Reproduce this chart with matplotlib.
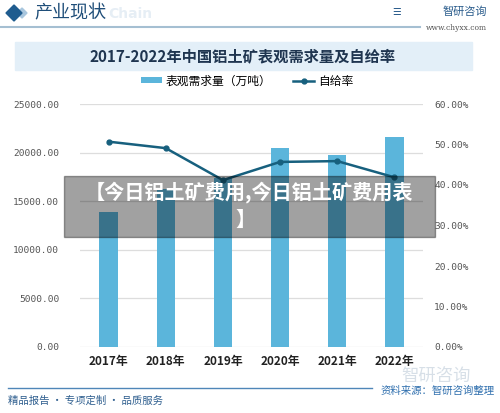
import matplotlib.pyplot as plt
from matplotlib.patches import Rectangle, Polygon
from matplotlib.lines import Line2D
import numpy as np

plt.rcParams['font.family'] = ['Noto Sans CJK SC', 'DejaVu Sans']

# data
years = ['2017年', '2018年', '2019年', '2020年', '2021年', '2022年']
demand = [13900, 16250, 17350, 20450, 19750, 21600]   # 表观需求量（万吨）
self_rate = [50.7, 49.1, 41.2, 45.7, 45.9, 41.9]      # 自给率 %
left_ticks = [0, 5000, 10000, 15000, 20000, 25000]
right_ticks = [0, 10, 20, 30, 40, 50, 60]

W, H = 500, 413
fig = plt.figure(figsize=(W / 100, H / 100), dpi=100)

def fx(x):
    return x / W

def fy(y):
    return 1 - y / H

bar_color = '#5bb5db'
line_color = '#17607e'

# header
fig.add_artist(Polygon([[fx(17), fy(13)], [fx(22), fy(8)], [fx(27), fy(13)], [fx(22), fy(18)]],
                       closed=True, color='#a8c6de', transform=fig.transFigure, zorder=0))
fig.add_artist(Polygon([[fx(6), fy(13)], [fx(14), fy(5)], [fx(22), fy(13)], [fx(14), fy(21)]],
                       closed=True, color='#1f5c8f', transform=fig.transFigure))
fig.text(fx(108), fy(14), 'Chain', fontsize=10, color='#e6eef5', fontweight='bold',
         va='center', family='DejaVu Sans')
fig.text(fx(34), fy(13), '产业现状', fontsize=13, color='#1f4e79', va='center')
fig.add_artist(Line2D([0, fx(420)], [fy(27), fy(27)], color='#a5bfd2', lw=1.5,
                      transform=fig.transFigure))
fig.text(fx(487), fy(12), '智研咨询', fontsize=8, color='#2a5c8c', va='center', ha='right')
fig.text(fx(401), fy(12), '☰', fontsize=7, color='#2a5c8c', va='center', ha='right',
         family='DejaVu Sans')
fig.text(fx(487), fy(28), 'www.chyxx.com', fontsize=5.5, color='#555555', va='center',
         ha='right', family='DejaVu Serif')

# title box
fig.add_artist(Rectangle((fx(15), fy(70)), fx(457), 28 / H, color='#e3eff8',
                         transform=fig.transFigure, zorder=0))
fig.text(fx(243), fy(56.5), '2017-2022年中国铝土矿表观需求量及自给率', fontsize=11,
         fontweight='bold', color='#1f3550', ha='center', va='center')

# axes
ax = fig.add_axes([fx(80), fy(347), fx(343), 243 / H])
x = np.arange(len(years))
bars = ax.bar(x, demand, width=0.32, color=bar_color, zorder=2, label='表观需求量（万吨）')
ax.set_xlim(-0.5, len(years) - 0.5)
ax.set_ylim(0, 25000)
ax.set_yticks(left_ticks)
ax.set_yticklabels(['%.2f' % v for v in left_ticks], family='DejaVu Sans Mono', fontsize=6.8,
                   color='#555555')
ax.set_xticks(x)
ax.set_xticklabels(years, fontsize=8.5, fontweight='bold', color='#222222')
ax.grid(axis='y', color='#dddddd', lw=0.9, zorder=0)
for s in ax.spines.values():
    s.set_visible(False)
ax.tick_params(length=0)
ax.tick_params(axis='y', pad=15)
ax.tick_params(axis='x', pad=6)

ax2 = ax.twinx()
ln, = ax2.plot(x, self_rate, color=line_color, lw=1.8, marker='o', markersize=3.5,
               label='自给率', zorder=3)
ax2.set_ylim(0, 60)
ax2.set_yticks(right_ticks)
ax2.set_yticklabels(['%.2f%%' % v for v in right_ticks], family='DejaVu Sans Mono',
                    fontsize=6.8, color='#555555')
for s in ax2.spines.values():
    s.set_visible(False)
ax2.tick_params(length=0, pad=8)

fig.legend(handles=[bars, ln], loc='center', bbox_to_anchor=(fx(247), fy(81)), ncol=2,
           frameon=False, fontsize=8.5, handlelength=1.8, handleheight=0.35,
           columnspacing=1.8, handletextpad=0.3)

# footer
fig.add_artist(Line2D([fx(8), fx(372)], [fy(388), fy(388)], color='#4f86b8', lw=1,
                      transform=fig.transFigure))
fig.text(fx(8), fy(401), '精品报告 · 专项定制 · 品质服务', fontsize=7.5, color='#2f5f8f',
         va='center')
fig.text(fx(436), fy(375.5), '智研咨询', fontsize=12.5, color='#cdd8e2', va='center',
         ha='center', alpha=0.8)
fig.text(fx(495), fy(391), '资料来源：智研咨询整理', fontsize=7.5, color='#2f6fae',
         va='center', ha='right')

# grey overlay banner
fig.add_artist(Rectangle((fx(64), fy(237)), fx(371), 61 / H, color='black', alpha=0.37,
                         transform=fig.transFigure, zorder=10))
fig.text(fx(249), fy(192), '【今日铝土矿费用,今日铝土矿费用表', fontsize=14.5, fontweight='bold',
         color='white', ha='center', va='center', zorder=11)
fig.text(fx(245), fy(219), '】', fontsize=14.5, fontweight='bold', color='white',
         ha='center', va='center', zorder=11)

fig.savefig('out.png', dpi=100)
